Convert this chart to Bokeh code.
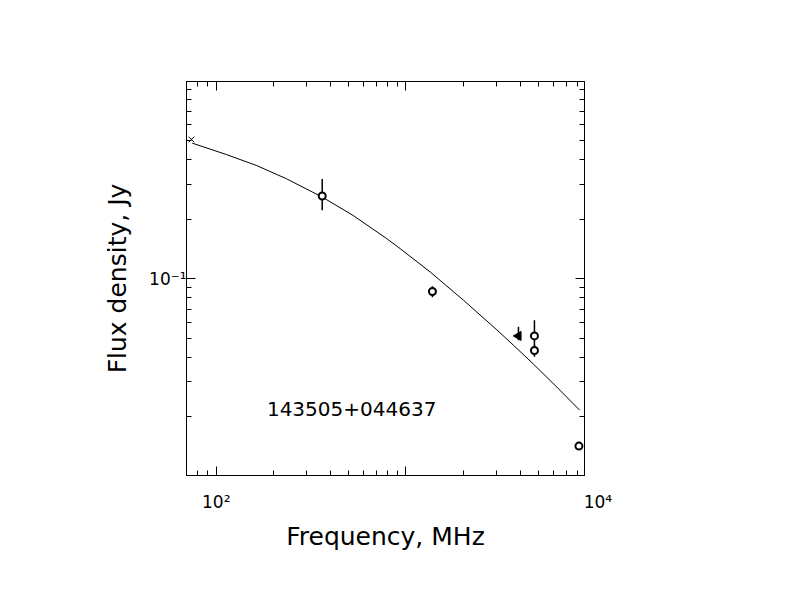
import math
from bokeh.plotting import figure
from bokeh.models import (LogAxis, FixedTicker, CustomJSTickFormatter, Label)
from bokeh.embed import file_html
from bokeh.resources import INLINE

# ---- data ----
obs_freq = [362, 1380, 4760, 4760, 8170]          # MHz, open circles
obs_flux = [0.2615, 0.0860, 0.0513, 0.0433, 0.01422]  # Jy
obs_lo = [0.2214, 0.0805, 0.0410, 0.0403, 0.01422]
obs_hi = [0.3189, 0.0915, 0.0616, 0.0463, 0.01422]

tri_freq = [3920]
tri_flux = [0.0513]
tri_lo = [0.0488]
tri_hi = [0.0570]

cross_freq = [74]
cross_flux = [0.505]

curve_freq = [74.7, 113, 162.5, 234, 362, 526, 794, 933, 1343, 2012, 3018, 3692, 4708, 6252, 8228]
curve_flux = [0.484, 0.424, 0.3735, 0.320, 0.2583, 0.2088, 0.159, 0.1417, 0.1080, 0.0777,
              0.0550, 0.0460, 0.0369, 0.02825, 0.02164]

x_range_lim = (69.7, 8740)
y_range_lim = (0.0101, 0.992)
x_major = [100, 1000]
x_minor = [80, 90] + [m * 100 for m in range(2, 10)] + [m * 1000 for m in range(2, 10)]
y_major = [0.1]
y_minor = [m / 100 for m in range(2, 10)] + [m / 10 for m in range(2, 10)]

source_name = "143505+044637"
x_label = "Frequency, MHz"
y_label = "Flux density, Jy"

FONT = "DejaVu Sans"

p = figure(x_axis_type="log", y_axis_type="log",
           x_range=x_range_lim, y_range=y_range_lim,
           frame_width=398, frame_height=394,
           min_border_left=186, min_border_top=81,
           min_border_right=180, min_border_bottom=110,
           output_backend="svg", toolbar_location=None,
           background_fill_color="white", border_fill_color="white")
p.grid.visible = False
p.outline_line_color = "black"
p.outline_line_width = 1

# bottom axis: an extra (invisible, on the frame edge) major tick carries the 10^4 label,
# because that decade lies just past the right end of the frame
edge = x_range_lim[1] * 0.9995
xt_bottom = FixedTicker(ticks=x_major + [edge], minor_ticks=x_minor)
xt = FixedTicker(ticks=x_major, minor_ticks=x_minor)
yt = FixedTicker(ticks=y_major, minor_ticks=y_minor)

def style(ax, ticker):
    ax.ticker = ticker
    ax.axis_line_color = "black"
    ax.major_tick_in = 9
    ax.major_tick_out = 0
    ax.minor_tick_in = 5
    ax.minor_tick_out = 0
    ax.major_tick_line_color = "black"
    ax.minor_tick_line_color = "black"
    ax.major_label_text_font = FONT
    ax.major_label_text_font_size = "17px"
    ax.major_label_text_color = "black"
    ax.axis_label_text_font = FONT
    ax.axis_label_text_font_style = "normal"
    ax.axis_label_text_font_size = "25px"
    ax.axis_label_text_color = "black"

style(p.xaxis[0], xt_bottom)
style(p.yaxis[0], yt)
p.xaxis[0].formatter = CustomJSTickFormatter(code="""
if (Math.abs(tick - 100) < 1e-6) return '10\u00b2';
if (tick > 5000) return '\u00a0\u00a0\u00a0\u00a0\u00a010\u2074';
return '';
""")
p.yaxis[0].formatter = CustomJSTickFormatter(code="return '10\u207b\u00b9';")
p.xaxis[0].major_label_standoff = 16
p.yaxis[0].major_label_standoff = 0
p.xaxis[0].axis_label = x_label
p.yaxis[0].axis_label = y_label
p.xaxis[0].axis_label_standoff = 7
p.yaxis[0].axis_label_standoff = 14

top = LogAxis()
right = LogAxis()
for ax, t in ((top, xt), (right, yt)):
    style(ax, t)
    ax.major_label_text_font_size = "0px"
    ax.formatter = CustomJSTickFormatter(code="return '';")
    ax.major_label_standoff = 0
p.add_layout(top, "above")
p.add_layout(right, "right")

# fitted curve
p.line(curve_freq, curve_flux, line_color="black", line_width=1)

# error bars
p.segment(x0=obs_freq, y0=obs_lo, x1=obs_freq, y1=obs_hi, line_color="black", line_width=1.5)
p.segment(x0=tri_freq, y0=tri_lo, x1=tri_freq, y1=tri_hi, line_color="black", line_width=1.5)

# markers
p.scatter(obs_freq, obs_flux, marker="circle", size=7, fill_color="white",
          line_color="black", line_width=2)
p.scatter(tri_freq, tri_flux, marker="triangle", size=9, angle=math.pi / 2,
          fill_color="black", line_color="black")
p.scatter(cross_freq, cross_flux, marker="x", size=8, line_color="black", line_width=1)

# source name
p.add_layout(Label(x=185, y=0.0219, text=source_name, text_font=FONT,
                   text_font_size="20px", text_color="black",
                   text_align="left", text_baseline="alphabetic"))

open("out.html", "w").write(file_html(p, INLINE))
